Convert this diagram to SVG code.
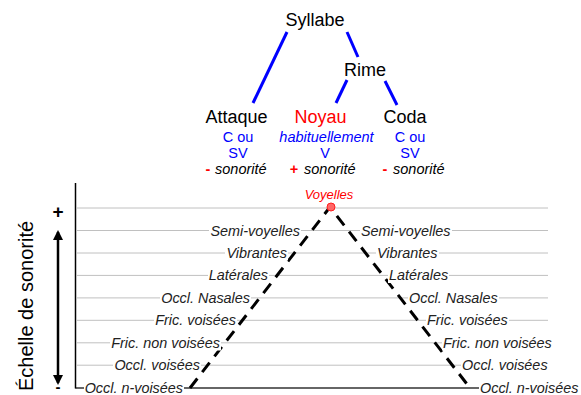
<svg xmlns="http://www.w3.org/2000/svg" width="581" height="395" viewBox="0 0 581 395">
<defs>
<style>
.t{font-family:"Liberation Sans",Arial,sans-serif;}
.big{font-size:18px;fill:#000;}
.sub{font-size:14.5px;fill:#0000ff;}
.lab{font-size:14.4px;font-style:italic;fill:#222;}
.grid{stroke:#c0c0c0;stroke-width:1;}
.tree{stroke:#0000ff;stroke-width:3;fill:none;}
.bg{fill:#fff;}
</style>
<marker id="ah" viewBox="0 0 10 10" refX="8" refY="5" markerWidth="4" markerHeight="4" orient="auto-start-reverse" markerUnits="strokeWidth">
<path d="M0,0 L10,5 L0,10 Z" fill="#000"/>
</marker>
</defs>
<rect width="581" height="395" fill="#fff"/>

<g id="connectors">
<line class="tree" x1="287" y1="32" x2="253" y2="103"/>
<line class="tree" x1="347" y1="32" x2="358" y2="57"/>
<line class="tree" x1="347" y1="80" x2="336" y2="103"/>
<line class="tree" x1="385" y1="81" x2="397" y2="105"/>
</g>

<g id="syllabe"><text class="t big" x="315" y="26" text-anchor="middle">Syllabe</text></g>
<g id="rime"><text class="t big" x="365" y="75.5" text-anchor="middle">Rime</text></g>
<g id="attaque">
<text class="t big" x="236.5" y="122.5" text-anchor="middle">Attaque</text>
<text class="t sub" x="238" y="141.5" text-anchor="middle">C ou</text>
<text class="t sub" x="238" y="158" text-anchor="middle">SV</text>
<text class="t" x="208" y="174" font-size="14.5" fill="#ff0000" font-weight="bold" text-anchor="middle">-</text>
<text class="t" x="215" y="174" font-size="14.5" font-style="italic" fill="#000">sonorité</text>
</g>
<g id="noyau">
<text class="t big" x="320.5" y="122.5" text-anchor="middle" style="fill:#ff0000">Noyau</text>
<text class="t sub" x="326.5" y="141.5" text-anchor="middle" font-style="italic">habituellement</text>
<text class="t sub" x="325" y="158" text-anchor="middle">V</text>
<text class="t" x="294" y="174" font-size="14.5" fill="#ff0000" font-weight="bold" text-anchor="middle">+</text>
<text class="t" x="304" y="174" font-size="14.5" font-style="italic" fill="#000">sonorité</text>
</g>
<g id="coda">
<text class="t big" x="405" y="122.5" text-anchor="middle">Coda</text>
<text class="t sub" x="410" y="141.5" text-anchor="middle">C ou</text>
<text class="t sub" x="410" y="158" text-anchor="middle">SV</text>
<text class="t" x="385" y="174" font-size="14.5" fill="#ff0000" font-weight="bold" text-anchor="middle">-</text>
<text class="t" x="393" y="174" font-size="14.5" font-style="italic" fill="#000">sonorité</text>
</g>

<g id="chart">
<line class="grid" x1="77" y1="208" x2="548" y2="208"/>
<line class="grid" x1="77" y1="230.5" x2="548" y2="230.5"/>
<line class="grid" x1="77" y1="253" x2="548" y2="253"/>
<line class="grid" x1="77" y1="275.4" x2="548" y2="275.4"/>
<line class="grid" x1="77" y1="297.9" x2="548" y2="297.9"/>
<line class="grid" x1="77" y1="320.3" x2="548" y2="320.3"/>
<line class="grid" x1="77" y1="342.8" x2="548" y2="342.8"/>
<line class="grid" x1="77" y1="365.2" x2="548" y2="365.2"/>
<line x1="75.5" y1="388" x2="548" y2="388" stroke="#333" stroke-width="1.3"/>
<line x1="75.5" y1="183" x2="75.5" y2="388.5" stroke="#000" stroke-width="1.5"/>
<polyline points="190,388 330,207 470,388" fill="none" stroke="#000" stroke-width="3" stroke-dasharray="12,8"/>
</g>

<g id="vowel">
<circle cx="331" cy="207" r="4" fill="#ff6666" stroke="#ff2020" stroke-width="1"/>
<text class="t" x="329" y="199" font-size="13" font-style="italic" fill="#ff0000" text-anchor="middle">Voyelles</text>
</g>

<g id="labels-left">
<rect class="bg" x="209" y="223" width="92" height="15"/><text class="t lab" x="300" y="235.5" text-anchor="end">Semi-voyelles</text>
<rect class="bg" x="225" y="245.5" width="63" height="15"/><text class="t lab" x="287" y="258" text-anchor="end">Vibrantes</text>
<rect class="bg" x="208" y="268" width="61" height="15"/><text class="t lab" x="268" y="280.4" text-anchor="end">Latérales</text>
<rect class="bg" x="160" y="290.5" width="91" height="15"/><text class="t lab" x="250" y="302.9" text-anchor="end">Occl. Nasales</text>
<rect class="bg" x="154" y="313" width="83" height="15"/><text class="t lab" x="236" y="325.3" text-anchor="end">Fric. voisées</text>
<rect class="bg" x="110" y="335.5" width="111" height="15"/><text class="t lab" x="220" y="347.8" text-anchor="end">Fric. non voisées</text>
<rect class="bg" x="113" y="358" width="88" height="15"/><text class="t lab" x="200" y="370.2" text-anchor="end">Occl. voisées</text>
<rect class="bg" x="84" y="381" width="100" height="14"/><text class="t lab" x="183" y="393" text-anchor="end">Occl. n-voisées</text>
</g>

<g id="labels-right">
<rect class="bg" x="360" y="223" width="92" height="15"/><text class="t lab" x="361" y="235.5">Semi-voyelles</text>
<rect class="bg" x="376" y="245.5" width="63" height="15"/><text class="t lab" x="377" y="258">Vibrantes</text>
<rect class="bg" x="388" y="268" width="61" height="15"/><text class="t lab" x="389" y="280.4">Latérales</text>
<rect class="bg" x="408" y="290.5" width="91" height="15"/><text class="t lab" x="409" y="302.9">Occl. Nasales</text>
<rect class="bg" x="426" y="313" width="83" height="15"/><text class="t lab" x="427" y="325.3">Fric. voisées</text>
<rect class="bg" x="442" y="335.5" width="111" height="15"/><text class="t lab" x="443" y="347.8">Fric. non voisées</text>
<rect class="bg" x="461" y="358" width="88" height="15"/><text class="t lab" x="462" y="370.2">Occl. voisées</text>
<rect class="bg" x="479" y="381" width="100" height="14"/><text class="t lab" x="480" y="393">Occl. n-voisées</text>
</g>

<g id="scale">
<text class="t" x="33" y="306" font-size="20" fill="#000" text-anchor="middle" transform="rotate(-90 33 306)">Échelle de sonorité</text>
<text class="t" x="58" y="217.5" font-size="19" font-weight="bold" fill="#000" text-anchor="middle">+</text>
<text class="t" x="58" y="392" font-size="15" font-weight="bold" fill="#000" text-anchor="middle">-</text>
<line x1="58" y1="232" x2="58" y2="383" stroke="#000" stroke-width="2.5" marker-start="url(#ah)" marker-end="url(#ah)"/>
</g>
</svg>
